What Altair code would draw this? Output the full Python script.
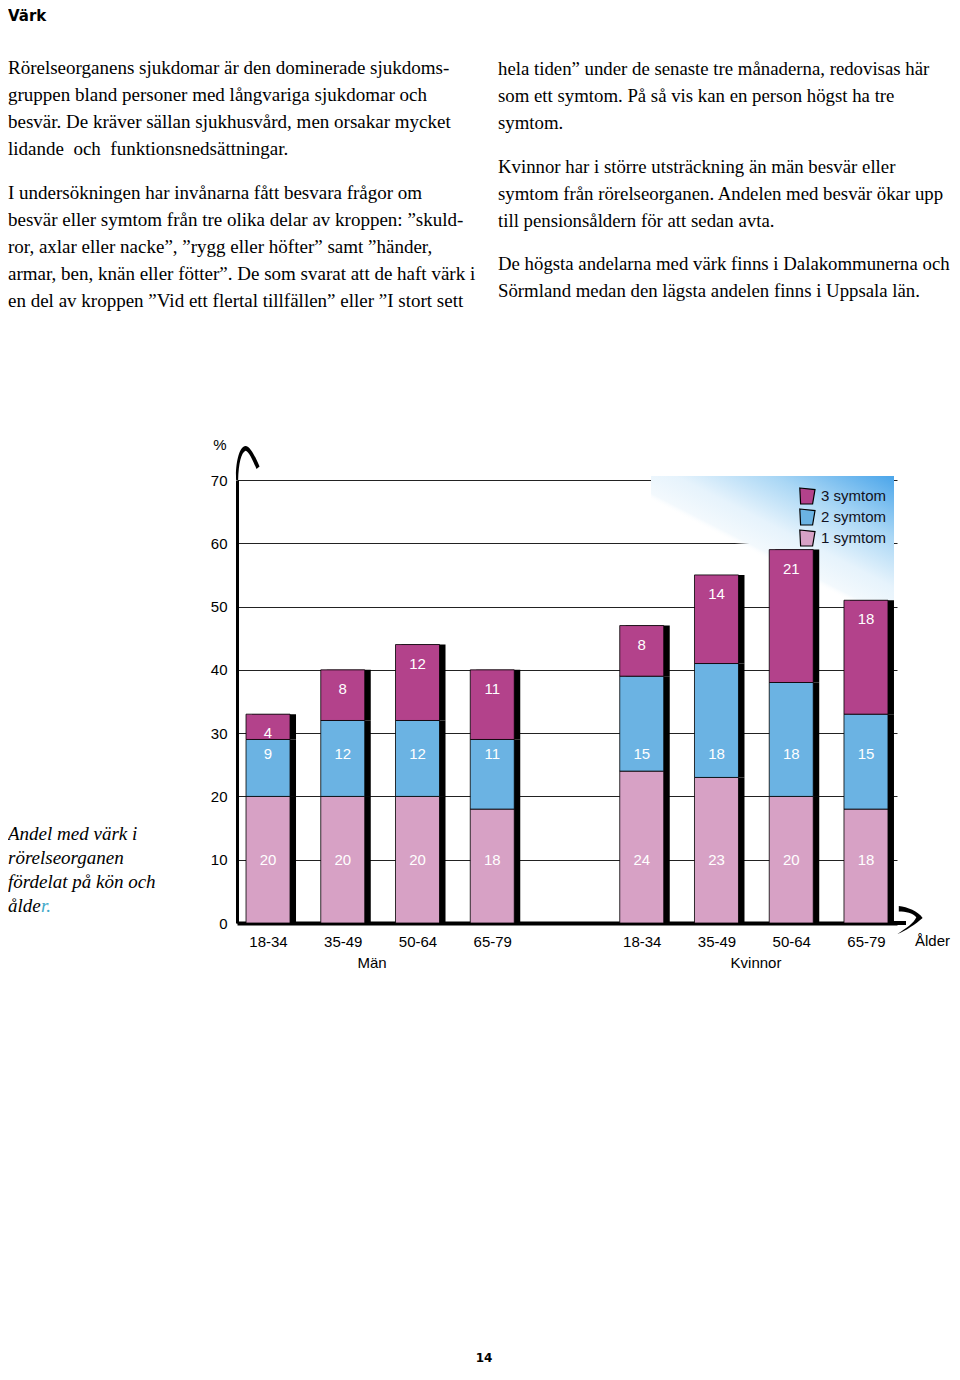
import altair as alt
import pandas as pd

# ---------------- data ----------------
groups = ["Män"] * 4 + ["Kvinnor"] * 4
ages = ["18-34", "35-49", "50-64", "65-79"] * 2
symtom1 = [20, 20, 20, 18, 24, 23, 20, 18]
symtom2 = [9, 12, 12, 11, 15, 18, 18, 15]
symtom3 = [4, 8, 12, 11, 8, 14, 21, 18]
symptom_names = ["1 symtom", "2 symtom", "3 symtom"]
legend_order = ["3 symtom", "2 symtom", "1 symtom"]
y_ticks = [0, 10, 20, 30, 40, 50, 60, 70]

title_text = "Värk"
para1 = ["Rörelseorganens sjukdomar är den dominerade sjukdoms-",
         "gruppen bland personer med långvariga sjukdomar och",
         "besvär. De kräver sällan sjukhusvård, men orsakar mycket",
         "lidande\u00a0 och\u00a0 funktionsnedsättningar."]
para2 = ["I undersökningen har invånarna fått besvara frågor om",
         "besvär eller symtom från tre olika delar av kroppen: ”skuld-",
         "ror, axlar eller nacke”, ”rygg eller höfter” samt ”händer,",
         "armar, ben, knän eller fötter”. De som svarat att de haft värk i",
         "en del av kroppen ”Vid ett flertal tillfällen” eller ”I stort sett"]
para3 = ["hela tiden” under de senaste tre månaderna, redovisas här",
         "som ett symtom. På så vis kan en person högst ha tre",
         "symtom."]
para4 = ["Kvinnor har i större utsträckning än män besvär eller",
         "symtom från rörelseorganen. Andelen med besvär ökar upp",
         "till pensionsåldern för att sedan avta."]
para5 = ["De högsta andelarna med värk finns i Dalakommunerna och",
         "Sörmland medan den lägsta andelen finns i Uppsala län."]
caption = ["Andel med värk i", "rörelseorganen", "fördelat på kön och"]
caption_last = "ålde"
caption_last_tail = "r."
page_number = "14"

# ---------------- styles ----------------
MAGENTA = "#B3428B"
BLUE = "#6BB3E3"
PINK = "#D7A1C5"
OX, OY = 237, 480          # page position of plot origin
W, H = 660, 443

rows = []
for g, a, v1, v2, v3 in zip(groups, ages, symtom1, symtom2, symtom3):
    for i, (name, v) in enumerate(zip(symptom_names, [v1, v2, v3])):
        rows.append({"key": f"{g}|{a}", "symptom": name, "rank": i + 1, "value": v})
df = pd.DataFrame(rows)

x_domain = [f"Män|{a}" for a in ages[:4]] + ["|"] + [f"Kvinnor|{a}" for a in ages[4:]]

x_enc = alt.X("key:N",
              scale=alt.Scale(type="point", domain=x_domain, padding=0.415),
              axis=alt.Axis(title=None, labelExpr="split(datum.label, '|')[1]",
                            ticks=False, labelPadding=11, labelFontSize=15,
                            labelFont="Liberation Sans", labelColor="black",
                            labelAngle=0, domainColor="black", domainWidth=4,
                            grid=False))
y_scale = alt.Scale(domain=[0, 70], nice=False, zero=True)
y_axis = alt.Axis(title=None, values=y_ticks, grid=True, gridColor="#222222",
                  gridWidth=1.2, ticks=False, labelPadding=10, labelFontSize=15,
                  labelFont="Liberation Sans", labelColor="black",
                  domainColor="black", domainWidth=3)

base = alt.Chart(df)

cloud = alt.Chart(alt.Data(values=[{}])).mark_rect(
    fill=alt.LinearGradient(
        gradient="linear", x1=0, y1=1, x2=1, y2=0,
        stops=[alt.GradientStop(color="rgba(255,255,255,0)", offset=0),
               alt.GradientStop(color="rgba(255,255,255,0)", offset=0.40),
               alt.GradientStop(color="#f3f9fd", offset=0.43),
               alt.GradientStop(color="#e6f3fc", offset=0.55),
               alt.GradientStop(color="#aad7f5", offset=0.75),
               alt.GradientStop(color="#4aa5ea", offset=1)])
).encode(x=alt.value(651 - OX), x2=alt.value(894 - OX),
         y=alt.value(476 - OY), y2=alt.value(600 - OY))

shadow = base.mark_bar(size=44, xOffset=6, color="black").encode(
    x=x_enc,
    y=alt.Y("value:Q", stack="zero", scale=y_scale, axis=y_axis),
    order=alt.Order("rank:Q", sort="ascending"),
)

bars = base.mark_bar(size=44, stroke="black", strokeWidth=0.8).encode(
    x=x_enc,
    y=alt.Y("value:Q", stack="zero", scale=y_scale, axis=y_axis),
    order=alt.Order("rank:Q", sort="ascending"),
    color=alt.Color("symptom:N",
                    scale=alt.Scale(domain=legend_order, range=[MAGENTA, BLUE, PINK]),
                    legend=alt.Legend(orient="none", legendX=561, legendY=7, title=None,
                                      labelFontSize=15, labelFont="Liberation Sans",
                                      labelColor="#111122",
                                      symbolType="M-0.9,-1 L1,-0.8 L0.7,1 L-0.8,1 Z",
                                      symbolSize=256, symbolStrokeColor="black",
                                      symbolStrokeWidth=1.2, symbolOpacity=1,
                                      rowPadding=-1, labelOffset=5, padding=0)),
)

labels = base.transform_joinaggregate(
    total="sum(value)", groupby=["key"]
).transform_calculate(
    ly="datum.rank == 1 ? 10 : (datum.rank == 2 ? 26.7 : datum.total - 3)"
).mark_text(color="white", fontSize=15, font="Liberation Sans", baseline="middle").encode(
    x=x_enc,
    y=alt.Y("ly:Q", scale=y_scale, axis=y_axis),
    text="value:Q",
)

one = alt.Data(values=[{}])

y_hook = alt.Chart(one).mark_point(
    shape="M-0.7,1 C-0.75,0 -0.5,-1 -0.15,-1 C0.15,-1 0.45,-0.3 0.68,0.2 L0.5,0.35 C0.3,-0.1 0.05,-0.7 -0.15,-0.72 C-0.4,-0.6 -0.55,0 -0.58,1 Z",
    filled=True, color="black", opacity=1, size=1156
).encode(x=alt.value(248 - OX), y=alt.value(463 - OY))

x_line = alt.Chart(one).mark_rule(color="black", strokeWidth=4).encode(
    x=alt.value(W - 5), x2=alt.value(906 - OX), y=alt.value(H))

x_arrow = alt.Chart(one).mark_point(
    shape="M-0.8,-1 C-0.2,-0.95 0.6,-0.6 0.9,-0.15 C0.4,0.3 -0.3,0.75 -0.9,1 C-0.3,0.6 0.3,0.2 0.45,-0.2 C0.2,-0.5 -0.3,-0.6 -0.8,-0.6 Z",
    filled=True, color="black", opacity=1, size=784
).encode(x=alt.value(910 - OX), y=alt.value(920 - OY))


def note(text, px, py, size=19, font="Liberation Serif", color="black", align="left",
         baseline="alphabetic", weight="normal", style="normal", lh=27):
    return alt.Chart(one).mark_text(
        text=text, align=align, baseline=baseline, font=font, fontSize=size,
        color=color, fontWeight=weight, fontStyle=style, lineHeight=lh
    ).encode(x=alt.value(px - OX), y=alt.value(py - OY))


notes = [
    note(title_text, 8, 21, size=15, font="DejaVu Sans", weight="bold"),
    note(para1, 8, 74),
    note(para2, 8, 199),
    note(para3, 498, 75, size=18.8),
    note(para4, 498, 173, size=18.8),
    note(para5, 498, 270, size=18.8),
    note(caption, 8, 840, style="italic", lh=24),
    note(caption_last, 8, 912, style="italic"),
    note(caption_last_tail, 41, 912, style="italic", color="#3fa9c9"),
    note("%", 220, 445, size=15, font="Liberation Sans", align="center", baseline="middle"),
    note("Män", 372, 963, size=15, font="Liberation Sans", align="center", baseline="middle"),
    note("Kvinnor", 756, 963, size=15, font="Liberation Sans", align="center", baseline="middle"),
    note("Ålder", 915, 941, size=15, font="Liberation Sans", baseline="middle"),
    note(page_number, 484, 1362, size=12, font="DejaVu Sans", weight="bold", align="center"),
]

chart = alt.layer(cloud, shadow, bars, labels, y_hook, x_line, x_arrow, *notes).properties(
    width=W, height=H,
    autosize=alt.AutoSizeParams(type="none"),
    padding={"left": OX - 8, "top": OY - 8, "right": 952 - OX - W, "bottom": 1366 - OY - H},
).configure_view(stroke=None)

chart.save("out.html", embed_options={"renderer": "svg", "actions": False})
